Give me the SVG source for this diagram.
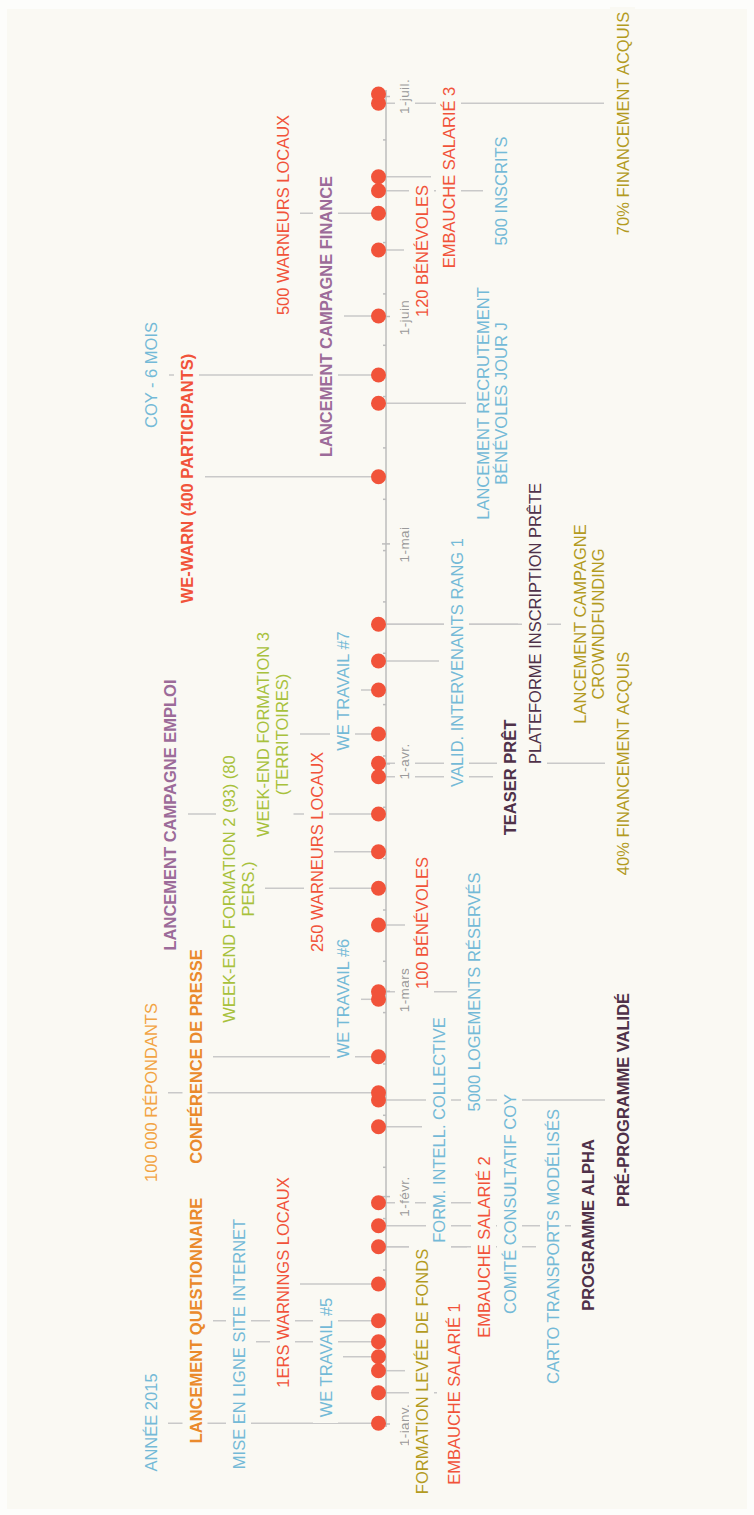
<svg xmlns="http://www.w3.org/2000/svg" width="754" height="1515" viewBox="0 0 754 1515">
<style>
text{font-family:"Liberation Sans",Arial,sans-serif;font-size:16.5px;text-anchor:middle}
.m{font-size:13.5px;fill:#9a9a9a;letter-spacing:0.4px}
.b{font-weight:bold}
.lb{fill:#74bad7}.or{fill:#ea8a2c}.lo{fill:#f2a443}.rd{fill:#f1533a}.pu{fill:#9c6b99}
.yg{fill:#a8c13c}.ol{fill:#b39b1f}.dp{fill:#4f3149}
.h{fill:#faf9f3}
#connectors line{stroke:#c9c9c9;stroke-width:1.5}
#axis line{stroke:#bdbdbd;stroke-width:1.5}
.dot{fill:#f1533a}
</style>
<rect width="754" height="1515" fill="#fdfdfb"/>
<rect x="7" y="9" width="740" height="1500" fill="#faf9f3"/>

<g id="connectors">
<line x1="386" y1="1423.3" x2="168" y2="1423.3"/>
<line x1="386" y1="1392.7" x2="437" y2="1392.7"/>
<line x1="386" y1="1370.7" x2="405" y2="1370.7"/>
<line x1="386" y1="1356.7" x2="343" y2="1356.7"/>
<line x1="386" y1="1341.7" x2="256" y2="1341.7"/>
<line x1="386" y1="1320.7" x2="213" y2="1320.7"/>
<line x1="386" y1="1284" x2="300" y2="1284"/>
<line x1="386" y1="1246.7" x2="467" y2="1246.7"/>
<line x1="386" y1="1246.7" x2="536" y2="1246.7"/>
<line x1="386" y1="1225.7" x2="571" y2="1225.7"/>
<line x1="386" y1="1202.7" x2="493" y2="1202.7"/>
<line x1="386" y1="1126.7" x2="422" y2="1126.7"/>
<line x1="386" y1="1100" x2="605" y2="1100"/>
<line x1="386" y1="1092.7" x2="168" y2="1092.7"/>
<line x1="386" y1="1056.7" x2="213" y2="1056.7"/>
<line x1="386" y1="999.3" x2="361" y2="999.3"/>
<line x1="386" y1="991.7" x2="457" y2="991.7"/>
<line x1="386" y1="925" x2="405" y2="925"/>
<line x1="386" y1="888.3" x2="265" y2="888.3"/>
<line x1="386" y1="851.7" x2="334" y2="851.7"/>
<line x1="386" y1="814" x2="188" y2="814"/>
<line x1="386" y1="776.7" x2="493" y2="776.7"/>
<line x1="386" y1="763.3" x2="605" y2="763.3"/>
<line x1="386" y1="734" x2="300" y2="734"/>
<line x1="386" y1="690" x2="361" y2="690"/>
<line x1="386" y1="661" x2="439" y2="661"/>
<line x1="386" y1="624.3" x2="518" y2="624.3"/>
<line x1="386" y1="624.3" x2="561" y2="624.3"/>
<line x1="386" y1="476.7" x2="205" y2="476.7"/>
<line x1="386" y1="403.3" x2="466" y2="403.3"/>
<line x1="386" y1="375" x2="169" y2="375"/>
<line x1="386" y1="316" x2="344" y2="316"/>
<line x1="386" y1="250" x2="404" y2="250"/>
<line x1="386" y1="213.3" x2="300" y2="213.3"/>
<line x1="386" y1="190.7" x2="483" y2="190.7"/>
<line x1="386" y1="176.7" x2="431" y2="176.7"/>
<line x1="386" y1="103.3" x2="604" y2="103.3"/>
</g>

<g id="axis">
<line x1="386" y1="90" x2="386" y2="1427"/>
<line x1="382" y1="1424" x2="390" y2="1424"/>
<line x1="382" y1="1196.6" x2="390" y2="1196.6"/>
<line x1="382" y1="991.3" x2="390" y2="991.3"/>
<line x1="382" y1="763.9" x2="390" y2="763.9"/>
<line x1="382" y1="543.9" x2="390" y2="543.9"/>
<line x1="382" y1="316.5" x2="390" y2="316.5"/>
<line x1="382" y1="96.5" x2="390" y2="96.5"/>
<line x1="383" y1="1372.7" x2="386" y2="1372.7"/>
<line x1="383" y1="1321.3" x2="386" y2="1321.3"/>
<line x1="383" y1="1270" x2="386" y2="1270"/>
<line x1="383" y1="1218.6" x2="386" y2="1218.6"/>
<line x1="383" y1="1167.3" x2="386" y2="1167.3"/>
<line x1="383" y1="1115.3" x2="386" y2="1115.3"/>
<line x1="383" y1="1064" x2="386" y2="1064"/>
<line x1="383" y1="1012.6" x2="386" y2="1012.6"/>
<line x1="383" y1="961.3" x2="386" y2="961.3"/>
<line x1="383" y1="910" x2="386" y2="910"/>
<line x1="383" y1="858.6" x2="386" y2="858.6"/>
<line x1="383" y1="807.3" x2="386" y2="807.3"/>
<line x1="383" y1="756" x2="386" y2="756"/>
<line x1="383" y1="704.6" x2="386" y2="704.6"/>
<line x1="383" y1="653.3" x2="386" y2="653.3"/>
<line x1="383" y1="601.9" x2="386" y2="601.9"/>
<line x1="383" y1="550.6" x2="386" y2="550.6"/>
<line x1="383" y1="499.3" x2="386" y2="499.3"/>
<line x1="383" y1="447.9" x2="386" y2="447.9"/>
<line x1="383" y1="396.6" x2="386" y2="396.6"/>
<line x1="383" y1="345.3" x2="386" y2="345.3"/>
<line x1="383" y1="293.9" x2="386" y2="293.9"/>
<line x1="383" y1="242.6" x2="386" y2="242.6"/>
<line x1="383" y1="191.3" x2="386" y2="191.3"/>
<line x1="383" y1="139.9" x2="386" y2="139.9"/>
<g id="months">
<rect class="h" x="395" y="1398" width="20" height="53"/><text class="m" transform="translate(409,1425) rotate(-90)">1-janv.</text>
<rect class="h" x="395" y="1170" width="20" height="53"/><text class="m" transform="translate(409,1196.5) rotate(-90)">1-févr.</text>
<rect class="h" x="395" y="962" width="20" height="56"/><text class="m" transform="translate(409,990) rotate(-90)">1-mars</text>
<rect class="h" x="395" y="738" width="20" height="47"/><text class="m" transform="translate(409,761.5) rotate(-90)">1-avr.</text>
<rect class="h" x="395" y="522" width="20" height="45"/><text class="m" transform="translate(409,544.5) rotate(-90)">1-mai</text>
<rect class="h" x="395" y="293.5" width="20" height="48"/><text class="m" transform="translate(409,317.5) rotate(-90)">1-juin</text>
<rect class="h" x="395" y="73" width="20" height="47"/><text class="m" transform="translate(409,96.5) rotate(-90)">1-juil.</text>
</g>
</g>

<g id="n-annee"><rect class="h" x="138" y="1368" width="25" height="109"/><text class="lb" transform="translate(157,1422.5) rotate(-90)">ANNÉE 2015</text><circle class="dot" cx="378.5" cy="1423.3" r="7.5"/></g>
<g id="n-salarie1"><rect class="h" x="441" y="1300" width="25" height="188"/><text class="rd" transform="translate(460,1394) rotate(-90)">EMBAUCHE SALARIÉ 1</text><circle class="dot" cx="378.5" cy="1392.7" r="7.5"/></g>
<g id="n-levee"><rect class="h" x="409" y="1243" width="25" height="257"/><text class="ol" transform="translate(428,1371.5) rotate(-90)">FORMATION LEVÉE DE FONDS</text><circle class="dot" cx="378.5" cy="1370.7" r="7.5"/></g>
<g id="n-we5"><rect class="h" x="313" y="1292" width="25" height="131"/><text class="lb" transform="translate(332,1357.5) rotate(-90)">WE TRAVAIL #5</text><circle class="dot" cx="378.5" cy="1356.7" r="7.5"/></g>
<g id="n-site"><rect class="h" x="226" y="1213" width="25" height="262"/><text class="lb" transform="translate(245,1344) rotate(-90)">MISE EN LIGNE SITE INTERNET</text><circle class="dot" cx="378.5" cy="1341.7" r="7.5"/></g>
<g id="n-questionnaire"><rect class="h" x="182.5" y="1192" width="25" height="257"/><text class="or b" transform="translate(201.5,1320.5) rotate(-90)">LANCEMENT QUESTIONNAIRE</text><circle class="dot" cx="378.5" cy="1320.7" r="7.5"/></g>
<g id="n-warnings"><rect class="h" x="270" y="1173" width="25" height="219"/><text class="rd" transform="translate(289,1282.5) rotate(-90)">1ERS WARNINGS LOCAUX</text><circle class="dot" cx="378.5" cy="1284" r="7.5"/></g>
<g id="n-salarie2"><rect class="h" x="471" y="1152" width="25" height="190"/><text class="rd" transform="translate(490,1247) rotate(-90)">EMBAUCHE SALARIÉ 2</text><circle class="dot" cx="378.5" cy="1246.7" r="7.5"/></g>
<g id="n-carto"><rect class="h" x="540" y="1103" width="25" height="287"/><text class="lb" transform="translate(559,1246.5) rotate(-90)">CARTO TRANSPORTS MODÉLISÉS</text></g>
<g id="n-alpha"><rect class="h" x="575" y="1135" width="25" height="180"/><text class="dp b" transform="translate(594,1225) rotate(-90)">PROGRAMME ALPHA</text><circle class="dot" cx="378.5" cy="1225.7" r="7.5"/></g>
<g id="n-comite"><rect class="h" x="497" y="1088" width="25" height="232"/><text class="lb" transform="translate(516,1204) rotate(-90)">COMITÉ CONSULTATIF COY</text><circle class="dot" cx="378.5" cy="1202.7" r="7.5"/></g>
<g id="n-formintell"><rect class="h" x="426" y="1012" width="25" height="236"/><text class="lb" transform="translate(445,1130) rotate(-90)">FORM. INTELL. COLLECTIVE</text><circle class="dot" cx="378.5" cy="1126.7" r="7.5"/></g>
<g id="n-preprog"><rect class="h" x="610" y="988" width="25" height="224"/><text class="dp b" transform="translate(629,1100) rotate(-90)">PRÉ-PROGRAMME VALIDÉ</text><circle class="dot" cx="378.5" cy="1100" r="7.5"/></g>
<g id="n-repondants"><rect class="h" x="138" y="998" width="25" height="189"/><text class="lo" transform="translate(157,1092.5) rotate(-90)">100 000 RÉPONDANTS</text><circle class="dot" cx="378.5" cy="1092.7" r="7.5"/></g>
<g id="n-presse"><rect class="h" x="182.5" y="945" width="25" height="223"/><text class="or b" transform="translate(201.5,1056.5) rotate(-90)">CONFÉRENCE DE PRESSE</text><circle class="dot" cx="378.5" cy="1056.7" r="7.5"/></g>
<g id="n-we6"><rect class="h" x="330" y="932" width="25" height="133"/><text class="lb" transform="translate(349,998.5) rotate(-90)">WE TRAVAIL #6</text><circle class="dot" cx="378.5" cy="999.3" r="7.5"/></g>
<g id="n-logements"><rect class="h" x="461" y="867" width="25" height="250"/><text class="lb" transform="translate(480,992) rotate(-90)">5000 LOGEMENTS RÉSERVÉS</text><circle class="dot" cx="378.5" cy="991.7" r="7.5"/></g>
<g id="n-benevoles100"><rect class="h" x="409" y="853" width="25" height="140"/><text class="rd" transform="translate(428,923) rotate(-90)">100 BÉNÉVOLES</text><circle class="dot" cx="378.5" cy="925" r="7.5"/></g>
<g id="n-weekend2"><rect class="h" x="216" y="750" width="43.5" height="278"/><text class="yg" transform="translate(235,889) rotate(-90)"><tspan x="0" y="0">WEEK-END FORMATION 2 (93) (80</tspan><tspan x="0" y="18.5">PERS.)</tspan></text><circle class="dot" cx="378.5" cy="888.3" r="7.5"/></g>
<g id="n-warneurs250"><rect class="h" x="304" y="747" width="25" height="210"/><text class="rd" transform="translate(323,852) rotate(-90)">250 WARNEURS LOCAUX</text><circle class="dot" cx="378.5" cy="851.7" r="7.5"/></g>
<g id="n-emploi"><rect class="h" x="157" y="674" width="25" height="282"/><text class="pu b" transform="translate(176,815) rotate(-90)">LANCEMENT CAMPAGNE EMPLOI</text><circle class="dot" cx="378.5" cy="814" r="7.5"/></g>
<g id="n-teaser"><rect class="h" x="497" y="715" width="25" height="125"/><text class="dp b" transform="translate(516,777.5) rotate(-90)">TEASER PRÊT</text><circle class="dot" cx="378.5" cy="776.7" r="7.5"/></g>
<g id="n-fin40"><rect class="h" x="610" y="645" width="25" height="237"/><text class="ol" transform="translate(629,763.5) rotate(-90)">40% FINANCEMENT ACQUIS</text><circle class="dot" cx="378.5" cy="763.3" r="7.5"/></g>
<g id="n-weekend3"><rect class="h" x="250" y="627" width="43.5" height="215"/><text class="yg" transform="translate(269,734.5) rotate(-90)"><tspan x="0" y="0">WEEK-END FORMATION 3</tspan><tspan x="0" y="18.5">(TERRITOIRES)</tspan></text><circle class="dot" cx="378.5" cy="734" r="7.5"/></g>
<g id="n-we7"><rect class="h" x="330" y="625" width="25" height="132"/><text class="lb" transform="translate(349,691) rotate(-90)">WE TRAVAIL #7</text><circle class="dot" cx="378.5" cy="690" r="7.5"/></g>
<g id="n-valid"><rect class="h" x="444" y="533" width="25" height="259"/><text class="lb" transform="translate(463,662.5) rotate(-90)">VALID. INTERVENANTS RANG 1</text><circle class="dot" cx="378.5" cy="661" r="7.5"/></g>
<g id="n-plateforme"><rect class="h" x="522" y="477" width="25" height="293"/><text class="dp" transform="translate(541,623.5) rotate(-90)">PLATEFORME INSCRIPTION PRÊTE</text><circle class="dot" cx="378.5" cy="624.3" r="7.5"/></g>
<g id="n-crowdfunding"><rect class="h" x="567" y="518" width="43" height="212"/><text class="ol" transform="translate(586,624) rotate(-90)"><tspan x="0" y="0">LANCEMENT CAMPAGNE</tspan><tspan x="0" y="18">CROWNDFUNDING</tspan></text></g>
<g id="n-wewarn"><rect class="h" x="174" y="347" width="25" height="263"/><text class="rd b" transform="translate(193,478.5) rotate(-90)">WE-WARN (400 PARTICIPANTS)</text><circle class="dot" cx="378.5" cy="476.7" r="7.5"/></g>
<g id="n-recrutement"><rect class="h" x="470" y="280" width="43" height="247"/><text class="lb" transform="translate(489,403.5) rotate(-90)"><tspan x="0" y="0">LANCEMENT RECRUTEMENT</tspan><tspan x="0" y="18">BÉNÉVOLES JOUR J</tspan></text><circle class="dot" cx="378.5" cy="403.3" r="7.5"/></g>
<g id="n-coy"><rect class="h" x="138" y="317" width="25" height="116"/><text class="lb" transform="translate(157,375) rotate(-90)">COY - 6 MOIS</text><circle class="dot" cx="378.5" cy="375" r="7.5"/></g>
<g id="n-finance"><rect class="h" x="313" y="170" width="25" height="293"/><text class="pu b" transform="translate(332,316.5) rotate(-90)">LANCEMENT CAMPAGNE FINANCE</text><circle class="dot" cx="378.5" cy="316" r="7.5"/></g>
<g id="n-benevoles120"><rect class="h" x="409" y="182" width="25" height="138"/><text class="rd" transform="translate(428,251) rotate(-90)">120 BÉNÉVOLES</text><circle class="dot" cx="378.5" cy="250" r="7.5"/></g>
<g id="n-warneurs500"><rect class="h" x="270" y="110" width="25" height="210"/><text class="rd" transform="translate(289,215) rotate(-90)">500 WARNEURS LOCAUX</text><circle class="dot" cx="378.5" cy="213.3" r="7.5"/></g>
<g id="n-inscrits"><rect class="h" x="488" y="132" width="25" height="118"/><text class="lb" transform="translate(507,191) rotate(-90)">500 INSCRITS</text><circle class="dot" cx="378.5" cy="190.7" r="7.5"/></g>
<g id="n-salarie3"><rect class="h" x="436" y="83" width="25" height="189"/><text class="rd" transform="translate(455,177.5) rotate(-90)">EMBAUCHE SALARIÉ 3</text><circle class="dot" cx="378.5" cy="176.7" r="7.5"/></g>
<g id="n-fin70"><rect class="h" x="610" y="7" width="25" height="233"/><text class="ol" transform="translate(629,123.5) rotate(-90)">70% FINANCEMENT ACQUIS</text><circle class="dot" cx="378.5" cy="103.3" r="7.5"/></g>
<g id="n-juil"><circle class="dot" cx="378.5" cy="94" r="7.5"/></g>
</svg>
